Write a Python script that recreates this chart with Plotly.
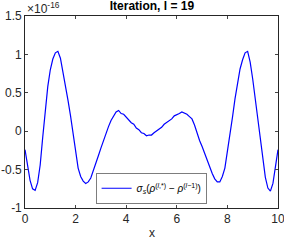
import plotly.graph_objects as go

x_vals = [i / 10 for i in range(101)]
y_vals = [
    -0.24, -0.45, -0.64, -0.75, -0.77, -0.67, -0.44, -0.08, 0.28, 0.58,
    0.80, 0.94, 1.02, 1.04, 0.95, 0.78, 0.58, 0.40, 0.20, -0.05,
    -0.28, -0.48, -0.59, -0.65, -0.68, -0.66, -0.61, -0.52, -0.42, -0.32,
    -0.22, -0.12, -0.03, 0.06, 0.14, 0.20, 0.25, 0.27, 0.23, 0.22,
    0.18, 0.15, 0.11, 0.09, 0.04, 0.02, -0.02, -0.03, -0.06, -0.05,
    -0.05, -0.02, 0.00, 0.03, 0.05, 0.09, 0.11, 0.14, 0.16, 0.20,
    0.21, 0.23, 0.25, 0.24, 0.22, 0.19, 0.16, 0.08, -0.03, -0.12,
    -0.20, -0.29, -0.38, -0.47, -0.55, -0.62, -0.66, -0.66, -0.59, -0.48,
    -0.28, -0.05, 0.18, 0.42, 0.63, 0.81, 0.93, 1.02, 1.04, 0.90,
    0.68, 0.43, 0.20, -0.05, -0.36, -0.60, -0.74, -0.78, -0.68, -0.48,
    -0.24,
]
x_ticks = [0, 2, 4, 6, 8, 10]
y_ticks = [-1, -0.5, 0, 0.5, 1, 1.5]
y_tick_text = ["-1", "-0.5", "0", "0.5", "1", "1.5"]

font = "Liberation Sans, Arial, sans-serif"
axis_col = "#262626"

fig = go.Figure()
fig.add_trace(go.Scatter(
    x=x_vals, y=y_vals, mode="lines",
    line=dict(color="#0000ff", width=1.2),
    name="<i>σ<sub>s</sub></i>(<i>ρ</i><sup>(<i>l</i>,*)</sup> − <i>ρ</i><sup>(<i>l</i>−1)</sup>)",
    showlegend=True,
))

fig.update_layout(
    width=284, height=240,
    margin=dict(l=25, r=6, t=16, b=32, autoexpand=False),
    paper_bgcolor="white", plot_bgcolor="white",
    font=dict(family=font, size=12, color=axis_col),
    title=dict(text="<b>Iteration, l = 19</b>", x=0.535, xanchor="center",
               y=0.995, yanchor="top", font=dict(size=12, color="black")),
    showlegend=True,
    legend=dict(x=0.5, xanchor="center", y=0.02, yanchor="bottom",
                bgcolor="white", bordercolor="#262626", borderwidth=0.6,
                font=dict(size=10, color="black"),
                itemwidth=30, tracegroupgap=0),
    xaxis=dict(range=[0, 10], tickvals=x_ticks, ticks="inside", ticklen=3,
               showline=True, linecolor=axis_col, linewidth=0.6, mirror="ticks",
               showgrid=False, zeroline=False, automargin=False,
               ticklabeloverflow="allow", tickfont=dict(size=12)),
    yaxis=dict(range=[-1, 1.5], tickvals=y_ticks, ticktext=y_tick_text,
               ticks="inside", ticklen=3, automargin=False,
               ticklabeloverflow="allow",
               showline=True, linecolor=axis_col, linewidth=0.6, mirror="ticks",
               showgrid=False, zeroline=False, tickfont=dict(size=12)),
)
fig.add_annotation(text="×10<sup>-16</sup>", xref="paper", yref="paper",
                   x=0, y=1.0, xanchor="left", yanchor="bottom",
                   showarrow=False, font=dict(size=12, color=axis_col), yshift=-2)
fig.add_annotation(text="x", xref="paper", yref="paper",
                   x=0.5, y=0, xanchor="center", yanchor="top",
                   showarrow=False, font=dict(size=12, color=axis_col), yshift=-16)

fig.write_html("out.html", config={"displayModeBar": False},
               post_script="document.body.style.margin='0';")
